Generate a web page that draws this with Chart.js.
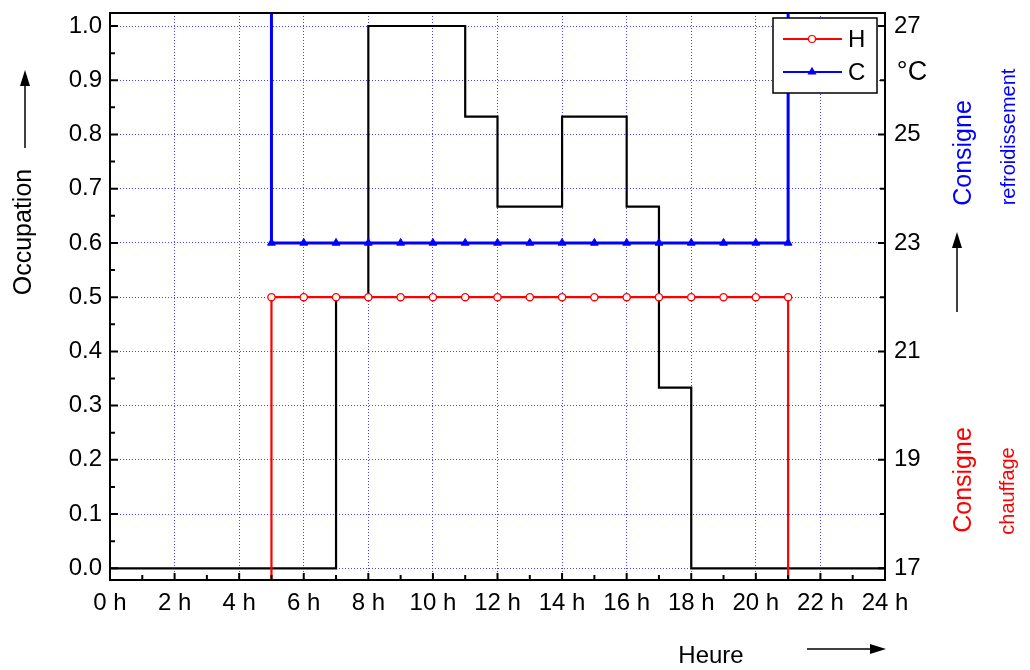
<!DOCTYPE html>
<html>
<head>
<meta charset="utf-8">
<script src="https://cdn.jsdelivr.net/npm/chart.js@4.4.0/dist/chart.umd.min.js"></script>
<style>
  html, body { margin: 0; padding: 0; background: #fff; }
  #wrap { width: 1030px; height: 670px; position: relative; }
</style>
</head>
<body>
<div id="wrap"><canvas id="canvas"></canvas></div>
<script>
const FONT = 'Liberation Sans, Arial, Helvetica, sans-serif';

// tick labels
const hourTicks = [0, 2, 4, 6, 8, 10, 12, 14, 16, 18, 20, 22, 24];
const occTicks = [0, 0.1, 0.2, 0.3, 0.4, 0.5, 0.6, 0.7, 0.8, 0.9, 1.0];
const tempTicks = [17, 19, 21, 23, 25, 27];

// occupation (step changes)
const occHours = [0, 7, 8, 11, 12, 14, 16, 17, 18, 24];
const occValues = [0, 0.5, 1.0, 0.833, 0.667, 0.833, 0.667, 0.333, 0, 0];

// setpoints, hourly while the building is in use
const setHours = [5, 6, 7, 8, 9, 10, 11, 12, 13, 14, 15, 16, 17, 18, 19, 20, 21];
const heatValues = [22, 22, 22, 22, 22, 22, 22, 22, 22, 22, 22, 22, 22, 22, 22, 22, 22];
const coolValues = [23, 23, 23, 23, 23, 23, 23, 23, 23, 23, 23, 23, 23, 23, 23, 23, 23];
const heatOff = 16;   // off: below the axis
const coolOff = 28;   // off: above the axis

const occData = occHours.map((h, i) => ({ x: h, y: occValues[i] }));

function setpoint(values, off) {
    const pts = setHours.map((h, i) => ({ x: h, y: values[i] }));
    return [{ x: setHours[0], y: off }, ...pts, { x: setHours[setHours.length - 1], y: off }];
}
const heatData = setpoint(heatValues, heatOff);
const coolData = setpoint(coolValues, coolOff);

function arrow(ctx, x1, y1, x2, y2) {
    const a = Math.atan2(y2 - y1, x2 - x1);
    ctx.beginPath();
    ctx.moveTo(x1, y1);
    ctx.lineTo(x2 - 10 * Math.cos(a), y2 - 10 * Math.sin(a));
    ctx.stroke();
    ctx.save();
    ctx.translate(x2, y2);
    ctx.rotate(a);
    ctx.beginPath();
    ctx.moveTo(0, 0);
    ctx.lineTo(-16, -5);
    ctx.lineTo(-16, 5);
    ctx.closePath();
    ctx.fill();
    ctx.restore();
}

function vtext(ctx, txt, x, y, size, color) {
    ctx.save();
    ctx.translate(x, y);
    ctx.rotate(-Math.PI / 2);
    ctx.font = size + 'px ' + FONT;
    ctx.fillStyle = color;
    ctx.textAlign = 'center';
    ctx.textBaseline = 'middle';
    ctx.fillText(txt, 0, 0);
    ctx.restore();
}

const decor = {
    id: 'decor',
    afterDatasetsDraw(chart) {
        // legend box
        const ctx = chart.ctx, ca = chart.chartArea;
        const bx = ca.right - 112, by = ca.top + 5, bw = 104, bh = 75;
        ctx.save();
        ctx.fillStyle = '#fff';
        ctx.fillRect(bx, by, bw, bh);
        ctx.strokeStyle = '#000';
        ctx.lineWidth = 1.5;
        ctx.strokeRect(bx, by, bw, bh);
        [0, 1].forEach(i => {
            const ds = chart.data.datasets[i];
            const y = by + 21 + i * 33;
            ctx.strokeStyle = ds.borderColor;
            ctx.lineWidth = 2;
            ctx.beginPath();
            ctx.moveTo(bx + 10, y);
            ctx.lineTo(bx + 69, y);
            ctx.stroke();
            ctx.fillStyle = ds.pointBackgroundColor;
            ctx.lineWidth = 1.2;
            Chart.helpers.drawPoint(ctx, { pointStyle: ds.pointStyle, radius: i === 0 ? 3.5 : 4, borderWidth: 1.2, rotation: 0 }, bx + 39, y);
            ctx.fillStyle = '#000';
            ctx.font = '24px ' + FONT;
            ctx.textBaseline = 'middle';
            ctx.textAlign = 'left';
            ctx.fillText(ds.label, bx + 75, y + 1);
        });
        ctx.restore();
    },
    afterDraw(chart) {
        const ctx = chart.ctx, ca = chart.chartArea;
        const sx = chart.scales.x, sy = chart.scales.y, sy2 = chart.scales.y2;
        ctx.save();
        // frame
        ctx.strokeStyle = '#000';
        ctx.lineWidth = 2;
        ctx.strokeRect(ca.left, ca.top, ca.right - ca.left, ca.bottom - ca.top);
        // inward ticks
        ctx.beginPath();
        for (let h = 0; h <= 24; h++) {
            const x = sx.getPixelForValue(h);
            ctx.moveTo(x, ca.bottom);
            ctx.lineTo(x, ca.bottom - (h % 2 === 0 ? 7 : 5));
        }
        for (let k = 0; k <= 20; k++) {
            const y = sy.getPixelForValue(k * 0.05);
            ctx.moveTo(ca.left, y);
            ctx.lineTo(ca.left + (k % 2 === 0 ? 8 : 5), y);
        }
        for (let t = 17; t <= 27; t++) {
            const y = sy2.getPixelForValue(t);
            ctx.moveTo(ca.right, y);
            ctx.lineTo(ca.right - (t % 2 === 1 ? 7 : 5), y);
        }
        ctx.stroke();

        // titles
        ctx.fillStyle = '#000';
        ctx.lineWidth = 1.5;
        vtext(ctx, 'Occupation', 24, 232, 25, '#000');
        arrow(ctx, 25, 148, 25, 70);
        ctx.font = '24px ' + FONT;
        ctx.textAlign = 'center';
        ctx.textBaseline = 'middle';
        ctx.fillText('Heure', 711, 656);
        arrow(ctx, 807, 649, 886, 649);
        ctx.font = '27px ' + FONT;
        ctx.fillText('°C', 912, 73);
        arrow(ctx, 957, 312, 957, 232);
        ctx.restore();

        vtext(ctx, 'Consigne', 964, 153, 25, '#0000ff');
        vtext(ctx, 'refroidissement', 1009, 137, 20, '#0000ff');
        vtext(ctx, 'Consigne', 964, 480, 25, '#ff0000');
        vtext(ctx, 'chauffage', 1008, 491, 20, '#ff0000');
    }
};

const gridBlue = 'rgba(50, 50, 255, 0.9)';

function noPad(s) {
    s.paddingTop = 0;
    s.paddingBottom = 0;
    s.paddingLeft = 0;
    s.paddingRight = 0;
}

new Chart(document.getElementById('canvas'), {
    type: 'line',
    data: {
        datasets: [{
            label: 'H',
            data: heatData,
            yAxisID: 'y2',
            borderColor: '#ff0000',
            borderWidth: 2.2,
            pointStyle: 'circle',
            pointRadius: heatData.map(p => p.y === heatOff ? 0 : 3.6),
            pointBackgroundColor: '#ffffff',
            pointBorderColor: '#ff0000',
            pointBorderWidth: 1.3,
            order: 1
        },
        {
            label: 'C',
            data: coolData,
            yAxisID: 'y2',
            borderColor: '#0000ff',
            borderWidth: 3,
            pointStyle: 'triangle',
            pointRadius: coolData.map(p => p.y === coolOff ? 0 : 4.5),
            pointBackgroundColor: '#0000ff',
            pointBorderColor: '#0000ff',
            pointBorderWidth: 1,
            order: 2
        },
        {
            label: 'Occupation',
            data: occData,
            yAxisID: 'y',
            borderColor: '#000000',
            borderWidth: 2.2,
            stepped: 'before',
            pointRadius: 0,
            order: 3
        }]
    },
    options: {
        responsive: true,
        maintainAspectRatio: false,
        animation: false,
        layout: { padding: { top: 13, left: 0, right: 0, bottom: 0 } },
        plugins: {
            legend: { display: false },
            tooltip: { enabled: false }
        },
        scales: {
            x: {
                type: 'linear',
                min: 0,
                max: 24,
                afterBuildTicks: s => { s.ticks = hourTicks.map(v => ({ value: v })); },
                afterFit: s => { s.height = 90; noPad(s); },
                ticks: {
                    callback: v => v + ' h',
                    color: '#000',
                    font: { family: FONT, size: 24 },
                    padding: 9,
                    maxRotation: 0,
                    autoSkip: false
                },
                grid: { color: gridBlue, lineWidth: 1, drawTicks: false },
                border: { display: true, color: '#000', width: 2, dash: [1, 2] }
            },
            y: {
                position: 'left',
                min: -0.0216,
                max: 1.024,
                afterBuildTicks: s => { s.ticks = occTicks.map(v => ({ value: v })); },
                afterFit: s => { s.width = 110; noPad(s); },
                ticks: {
                    callback: v => v.toFixed(1),
                    color: '#000',
                    font: { family: FONT, size: 24 },
                    padding: 8
                },
                grid: { color: gridBlue, lineWidth: 1, drawTicks: false },
                border: { display: true, color: '#000', width: 2, dash: [1, 2] }
            },
            y2: {
                position: 'right',
                min: 16.784,
                max: 27.24,
                afterBuildTicks: s => { s.ticks = tempTicks.map(v => ({ value: v })); },
                afterFit: s => { s.width = 145; noPad(s); },
                ticks: {
                    color: '#000',
                    font: { family: FONT, size: 24 },
                    padding: 9
                },
                grid: { display: false, drawTicks: false },
                border: { display: true, color: '#000', width: 2 }
            }
        }
    },
    plugins: [decor]
});
</script>
</body>
</html>
